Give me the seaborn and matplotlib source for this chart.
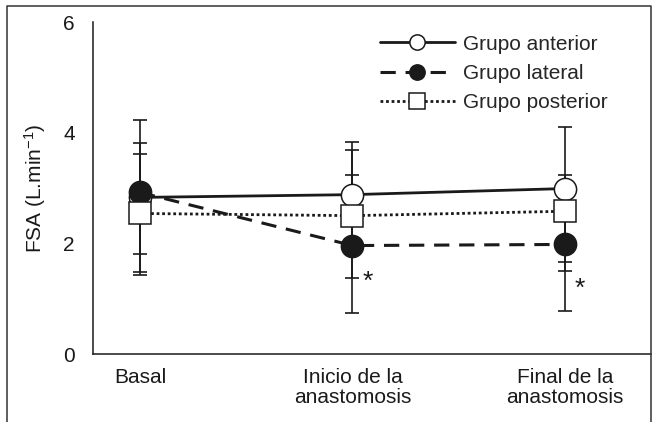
import numpy as np
import pandas as pd
import matplotlib
matplotlib.use('Agg')
import matplotlib.pyplot as plt
import seaborn as sns
from matplotlib.lines import Line2D

sns.set_theme(style='white')
plt.rcParams['font.family'] = ['Liberation Sans', 'DejaVu Sans']
plt.rcParams['mathtext.fontset'] = 'custom'
plt.rcParams['mathtext.rm'] = 'Liberation Sans'
plt.rcParams['mathtext.default'] = 'regular'

etapas = ['Basal', 'Inicio de la\nanastomosis', 'Final de la\nanastomosis']
grupos = ['Grupo anterior', 'Grupo lateral', 'Grupo posterior']

# medias
anterior = [2.83, 2.88, 2.99]
lateral = [2.92, 1.96, 1.98]
posterior = [2.54, 2.50, 2.58]

# extremos de las barras de error
anterior_inf = [1.42, 1.92, 1.66]
anterior_sup = [4.23, 3.84, 4.10]
lateral_inf = [1.80, 0.74, 0.78]
lateral_sup = [3.82, 3.24, 3.23]
posterior_inf = [1.48, 1.37, 1.50]
posterior_sup = [3.62, 3.69, 3.05]

# diferencias significativas (etapa, altura del asterisco)
sig_etapa = [1, 2]
sig_y = [1.30, 1.17]

ink = '#1a1a1a'
x = np.arange(len(etapas))

fig = plt.figure(figsize=(6.59, 4.22), dpi=100)
ax = fig.add_axes([93 / 659, 1 - 354 / 422, (651 - 93) / 659, (354 - 22) / 422])

estilos = [
    dict(linestyle='-', marker='o', markerfacecolor='white', linewidth=2.0),
    dict(linestyle=(0, (5, 3.2)), marker='o', markerfacecolor=ink, linewidth=2.2),
    dict(linestyle=(0, (1, 1)), marker='s', markerfacecolor='white', linewidth=2.0),
]
medias = [anterior, lateral, posterior]
inferiores = [anterior_inf, lateral_inf, posterior_inf]
superiores = [anterior_sup, lateral_sup, posterior_sup]

for i, (nombre, m, lo, hi, st) in enumerate(zip(grupos, medias, inferiores, superiores, estilos)):
    m = np.array(m)
    ax.errorbar(x, m, yerr=[m - np.array(lo), np.array(hi) - m], fmt='none',
                ecolor=ink, elinewidth=1.2, capsize=5, capthick=1.2, zorder=1)
    df = pd.DataFrame({'etapa': x, 'fsa': m})
    sns.lineplot(data=df, x='etapa', y='fsa', ax=ax, color=ink, markersize=16,
                 markeredgecolor=ink, markeredgewidth=1.1, label=nombre,
                 zorder=2 + i, **st)

for e, yy in zip(sig_etapa, sig_y):
    ax.text(e + 0.07, yy, '*', fontsize=19, ha='center', va='center', color=ink)

ax.set_xlim(-0.221, 2.405)
ax.set_ylim(0, 6)
ax.set_yticks([0, 2, 4, 6])
ax.set_xticks(x)
ax.set_xticklabels(etapas, fontsize=15, color=ink, linespacing=1.1)
ax.tick_params(axis='y', labelsize=15, length=0, pad=13, colors=ink)
ax.tick_params(axis='x', length=0, pad=10, colors=ink)
ax.set_xlabel('')
ax.set_ylabel('FSA (L.min$^{-1}$)', fontsize=15, color=ink, labelpad=11)

for s in ['top', 'right']:
    ax.spines[s].set_visible(False)
for s in ['left', 'bottom']:
    ax.spines[s].set_color(ink)
    ax.spines[s].set_linewidth(1.1)

leg = ax.legend(loc='upper left', bbox_to_anchor=(0.514, 0.962), frameon=False,
                fontsize=15, handlelength=3.6, handletextpad=0.4, labelspacing=0.5,
                borderpad=0, borderaxespad=0)
for h in leg.legend_handles:
    h.set_markersize(11)

# marco de la figura
fx0, fx1, fy1 = 7 / 659, 651 / 659, 1 - 6 / 422
fig.add_artist(Line2D([fx0, fx0, fx1, fx1], [0, fy1, fy1, 0], transform=fig.transFigure,
                      color='#333333', linewidth=1.1))

fig.savefig('out.png', dpi=100)
